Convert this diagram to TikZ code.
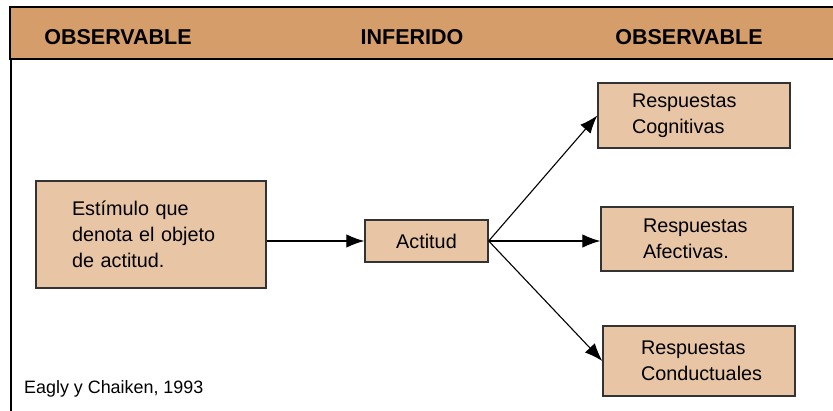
\documentclass[tikz,border=0pt]{standalone}
\usepackage{fontspec}
\setmainfont{Liberation Sans}
\usetikzlibrary{arrows.meta}
\definecolor{headfill}{HTML}{D59D6A}
\definecolor{boxfill}{HTML}{E8C5A5}
\definecolor{boxline}{HTML}{333333}
\tikzset{
  headtext/.style={font=\fontsize{21.5}{24}\selectfont\bfseries, inner sep=0pt},
  bodybox/.style={draw=boxline, line width=1.4pt, fill=boxfill, inner ysep=0pt,
    align=left, font=\fontsize{19.8}{26}\selectfont},
  conn/.style={line width=1.1pt, -{Latex[length=18pt,width=13.5pt]}},
}
\begin{document}
\begin{tikzpicture}[x=1pt,y=-1pt]
\useasboundingbox (0,0) rectangle (833,411);
\clip (0,0) rectangle (833,411);
% header band
\fill[headfill] (10,7) rectangle (845,59);
\draw[line width=2pt, black] (845,7) -- (10,7) -- (10,59) -- (845,59);
\draw[line width=1.2pt, black] (11,59) -- (11,415);
\node[headtext] (h1) at (118,37) {OBSERVABLE};
\node[headtext] (h2) at (412,37) {INFERIDO};
\node[headtext] (h3) at (689,37) {OBSERVABLE};
% boxes
\node[bodybox, inner xsep=36pt, text width=158pt, minimum height=107pt] (est) at (151,234.5)
  {Estímulo que\\denota el objeto\\de actitud.};
\node[bodybox, inner xsep=0pt, minimum width=123pt, minimum height=42pt, align=center] (act) at (426.5,241) {Actitud};
\node[bodybox, inner xsep=34pt, text width=124pt, minimum height=65pt] (cog) at (694,115.5)
  {Respuestas\\Cognitivas};
\node[bodybox, inner xsep=42pt, text width=108pt, minimum height=64pt] (afe) at (697,239)
  {Respuestas\\Afectivas.};
\node[bodybox, inner xsep=38pt, text width=116pt, minimum height=70pt] (con) at (699,361)
  {Respuestas\\Conductuales};
% connectors
\draw[conn] (est.east |- act.west) -- (act.west);
\draw[conn] (act.east) -- (cog.west);
\draw[conn] (act.east) -- (afe.west |- act.east);
\draw[conn] (act.east) -- (con.west);
% source
\node[font=\fontsize{17.9}{20}\selectfont, anchor=west, inner sep=0pt] (src) at (24,389)
  {Eagly y Chaiken, 1993};
\end{tikzpicture}
\end{document}
